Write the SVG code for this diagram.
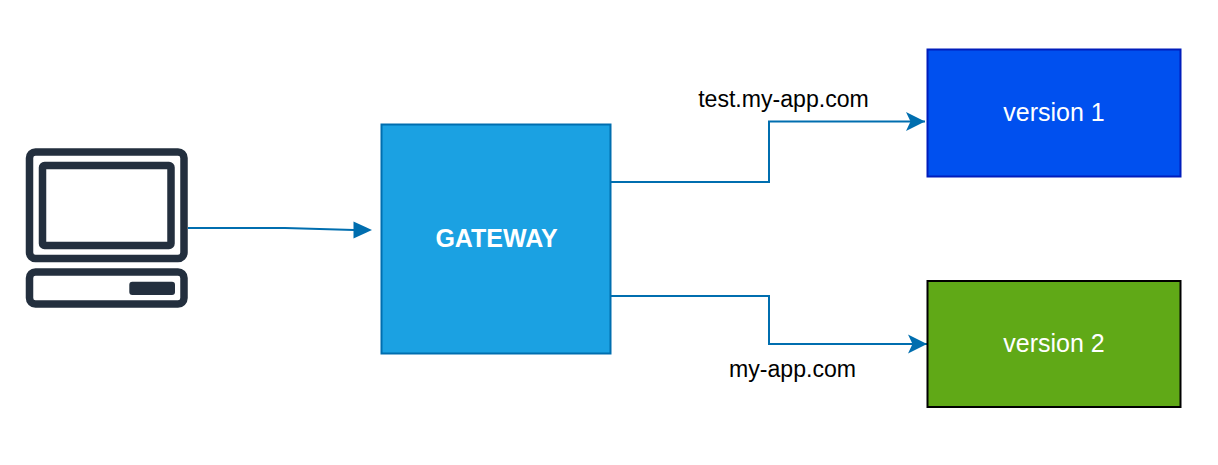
<svg xmlns="http://www.w3.org/2000/svg" width="1218" height="465" viewBox="0 0 1218 465">
<style>
text{font-family:"Liberation Sans",Arial,sans-serif;text-anchor:middle}
.conn{fill:none;stroke:#006eaf;stroke-width:2}
.label{font-size:23.1px;fill:#000}
.node{font-size:25px;fill:#fff}
.ic{fill:none;stroke:#232f3e;stroke-width:7.5;stroke-linejoin:round}
</style>
<defs>
<marker id="arrow" markerUnits="userSpaceOnUse" markerWidth="22" markerHeight="22" refX="20" refY="11" orient="auto">
<path d="M1 1.500 L20 11 L1 20.500 L5.500 11 Z" fill="#006eaf"/>
</marker>
</defs>
<rect width="1218" height="465" fill="#fff"/>
<g id="connectors">
<path class="conn" d="M188 228 H285 L354 230"/>
<path d="M353.500 221.500 L372 230 L353.500 238.500 Z" fill="#006eaf"/>
<path class="conn" d="M611 182 H769 V121.500 H925" marker-end="url(#arrow)"/>
<path class="conn" d="M611 296 H769 V344 H927" marker-end="url(#arrow)"/>
</g>
<g id="computer">
<rect class="ic" x="29.500" y="152" width="154.500" height="106.500" rx="6"/>
<rect class="ic" x="42.500" y="165.500" width="128.500" height="80" rx="2"/>
<rect class="ic" x="29.500" y="272" width="154.500" height="32" rx="6"/>
<rect x="129.300" y="281.700" width="45.700" height="13.300" rx="3" fill="#232f3e"/>
</g>
<g id="gateway">
<rect x="381.500" y="124.500" width="229" height="229" fill="#1ba1e2" stroke="#006eaf" stroke-width="2"/>
<text x="496.500" y="246.500" class="node" font-weight="bold">GATEWAY</text>
</g>
<g id="version1">
<rect x="927.500" y="49.500" width="253" height="127" fill="#0050ef" stroke="#001dbc" stroke-width="2"/>
<text x="1054" y="121" class="node">version 1</text>
</g>
<g id="version2">
<rect x="927.500" y="281" width="253" height="126" fill="#60a917" stroke="#000" stroke-width="2"/>
<text x="1054" y="352" class="node">version 2</text>
</g>
<g id="labels">
<text x="783.500" y="107" class="label">test.my-app.com</text>
<text x="792.500" y="377" class="label">my-app.com</text>
</g>
</svg>
